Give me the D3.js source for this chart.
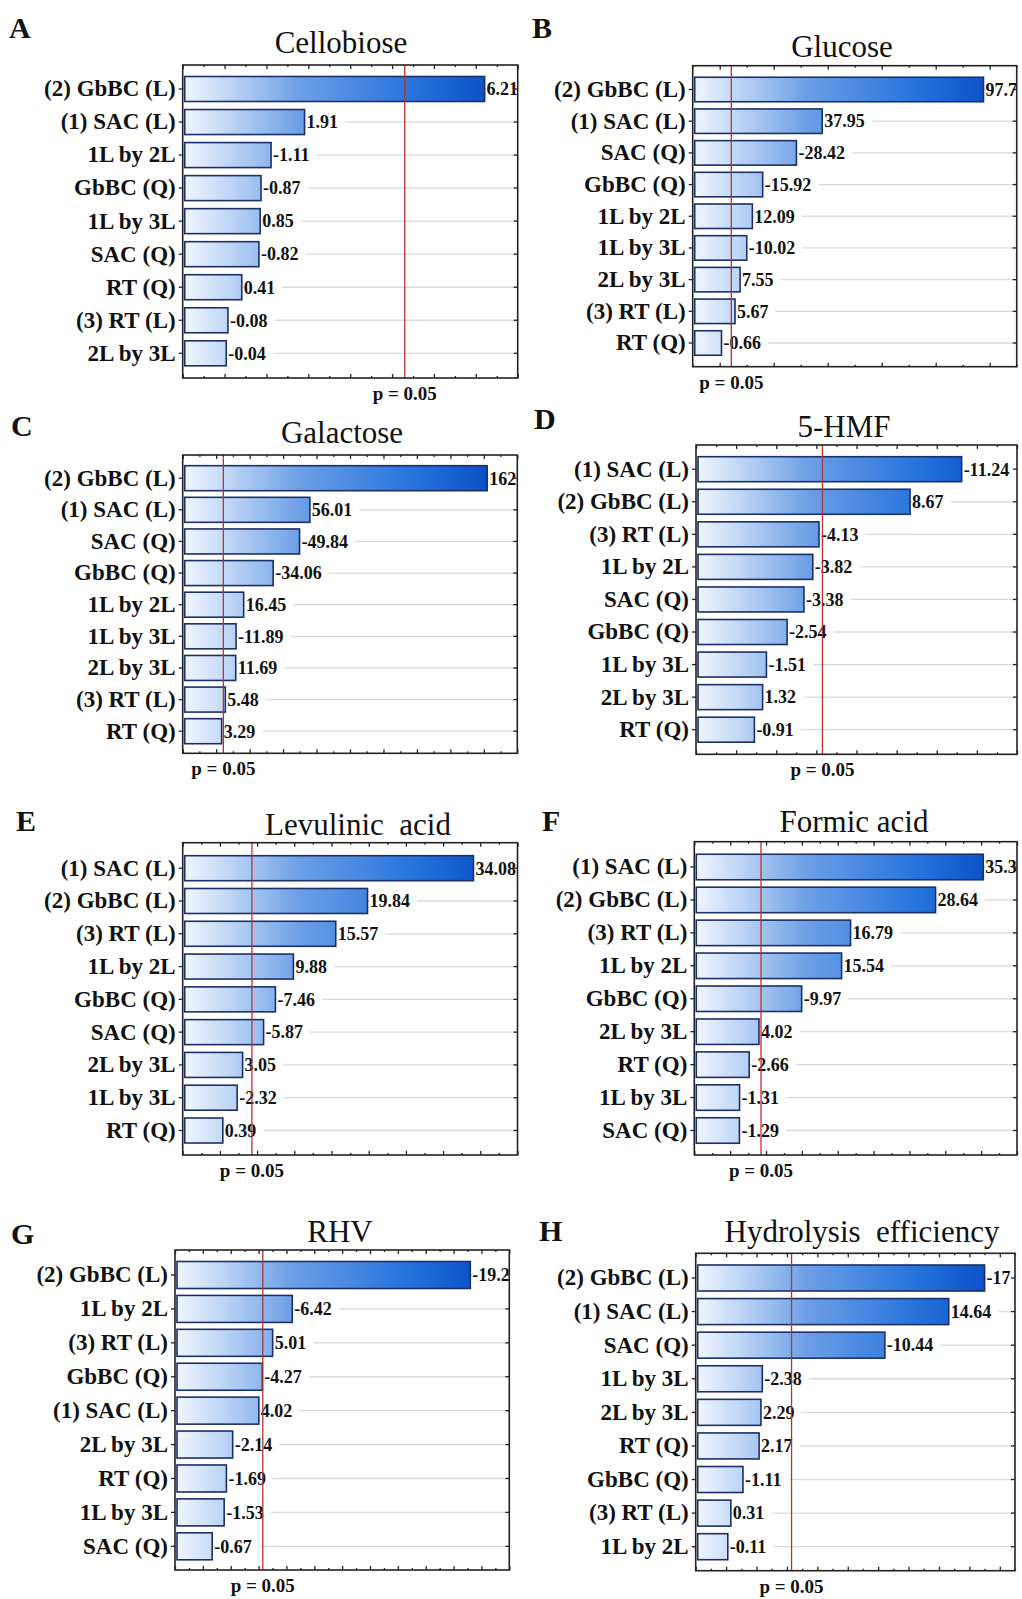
<!DOCTYPE html>
<html><head><meta charset="utf-8">
<script src="https://cdn.jsdelivr.net/npm/d3@7"></script>
<style>body{margin:0;background:#fff} svg{display:block}</style>
</head><body>
<svg id="c" width="1022" height="1599"></svg>
<script>
// ---------- DATA ----------
const letters = ["A","B","C","D","E","F","G","H"];
const titles = ["Cellobiose","Glucose","Galactose","5-HMF","Levulinic  acid","Formic acid","RHV","Hydrolysis  efficiency"];
const pLabel = "p = 0.05";
const pCrit = 4.303;

const catsA = ["(2) GbBC (L)","(1) SAC (L)","1L by 2L","GbBC (Q)","1L by 3L","SAC (Q)","RT (Q)","(3) RT (L)","2L by 3L"];
const valsA = [6.21, 1.91, -1.11, -0.87, 0.85, -0.82, 0.41, -0.08, -0.04];

const catsB = ["(2) GbBC (L)","(1) SAC (L)","SAC (Q)","GbBC (Q)","1L by 2L","1L by 3L","2L by 3L","(3) RT (L)","RT (Q)"];
const valsB = [97.7, 37.95, -28.42, -15.92, 12.09, -10.02, 7.55, 5.67, -0.66];

const catsC = ["(2) GbBC (L)","(1) SAC (L)","SAC (Q)","GbBC (Q)","1L by 2L","1L by 3L","2L by 3L","(3) RT (L)","RT (Q)"];
const valsC = [162, 56.01, -49.84, -34.06, 16.45, -11.89, 11.69, 5.48, 3.29];

const catsD = ["(1) SAC (L)","(2) GbBC (L)","(3) RT (L)","1L by 2L","SAC (Q)","GbBC (Q)","1L by 3L","2L by 3L","RT (Q)"];
const valsD = [-11.24, 8.67, -4.13, -3.82, -3.38, -2.54, -1.51, 1.32, -0.91];

const catsE = ["(1) SAC (L)","(2) GbBC (L)","(3) RT (L)","1L by 2L","GbBC (Q)","SAC (Q)","2L by 3L","1L by 3L","RT (Q)"];
const valsE = [34.08, 19.84, 15.57, 9.88, -7.46, -5.87, 3.05, -2.32, 0.39];

const catsF = ["(1) SAC (L)","(2) GbBC (L)","(3) RT (L)","1L by 2L","GbBC (Q)","2L by 3L","RT (Q)","1L by 3L","SAC (Q)"];
const valsF = [35.3, 28.64, 16.79, 15.54, -9.97, 4.02, -2.66, -1.31, -1.29];

const catsG = ["(2) GbBC (L)","1L by 2L","(3) RT (L)","GbBC (Q)","(1) SAC (L)","2L by 3L","RT (Q)","1L by 3L","SAC (Q)"];
const valsG = [-19.2, -6.42, 5.01, -4.27, 4.02, -2.14, -1.69, -1.53, -0.67];

const catsH = ["(2) GbBC (L)","(1) SAC (L)","SAC (Q)","1L by 3L","2L by 3L","RT (Q)","GbBC (Q)","(3) RT (L)","1L by 2L"];
const valsH = [-17, 14.64, -10.44, -2.38, 2.29, 2.17, -1.11, 0.31, -0.11];

const axisDomains = [[-1,7],[-10,110],[-20,180],[-2,14],[-5,40],[-5,40],[-2,22],[-2,19]];

const panelCats = [catsA,catsB,catsC,catsD,catsE,catsF,catsG,catsH];
const panelVals = [valsA,valsB,valsC,valsD,valsE,valsF,valsG,valsH];

// ---------- LAYOUT ----------
const layouts = [
  {left:182.7, right:517.7, top:65,    bottom:378,   first:89,    last:353.3,  barH:25,   lx:9,   ly:38,   tx:341, ty:53},
  {left:692.7, right:1016.7,top:65.7,  bottom:366.7, first:89.5,  last:343,    barH:24.5, lx:532, ly:38,   tx:842, ty:57},
  {left:182.7, right:517.3, top:455,   bottom:753.3, first:478.2, last:731.2,  barH:25,   lx:11,  ly:436,  tx:342, ty:443},
  {left:696,   right:1017,  top:445,   bottom:754.3, first:469.2, last:729.7,  barH:25,   lx:534, ly:429,  tx:844, ty:437},
  {left:182.7, right:517.5, top:842.7, bottom:1155,  first:868.2, last:1130.5, barH:25,   lx:16,  ly:831,  tx:358, ty:835},
  {left:694.3, right:1017,  top:841.7, bottom:1155,  first:867,   last:1130.5, barH:25.5, lx:542, ly:831,  tx:854, ty:832},
  {left:175,   right:509.3, top:1250,  bottom:1570,  first:1275,  last:1546.3, barH:27,   lx:11,  ly:1244, tx:340, ty:1242},
  {left:695.7, right:1015,  top:1253.3,bottom:1570.7,first:1278,  last:1546.7, barH:26,   lx:539, ly:1241, tx:862, ty:1242}
];

const serif = "'Liberation Serif','Times New Roman',Times,serif";
const svg = d3.select("#c");
const defs = svg.append("defs");

layouts.forEach((L, i) => {
  const cats = panelCats[i], vals = panelVals[i];
  const dom = axisDomains[i];
  const g = svg.append("g");
  const x = d3.scaleLinear().domain(dom).range([L.left, L.right]);
  const s = (L.last - L.first) / (cats.length - 1);
  const p = 1 - L.barH / s;
  const y = d3.scaleBand().domain(cats)
    .range([L.first - s/2, L.last + s/2]).paddingInner(p).paddingOuter(p/2);

  // gradient
  const gid = "grad" + i;
  const grad = defs.append("linearGradient").attr("id", gid)
    .attr("gradientUnits","userSpaceOnUse")
    .attr("x1", L.left).attr("x2", L.right).attr("y1",0).attr("y2",0);
  [[0,"#f2f7ff"],[0.13,"#c2d8f7"],[0.35,"#6c9fe6"],[0.7,"#2472dc"],[1,"#0042bd"]]
    .forEach(([o,c]) => grad.append("stop").attr("offset", o).attr("stop-color", c));

  // panel letter + title
  g.append("text").attr("x", L.lx).attr("y", L.ly)
    .attr("font-family", serif).attr("font-weight","bold").attr("font-size",30)
    .attr("fill","#111").text(letters[i]);
  g.append("text").attr("x", L.tx).attr("y", L.ty).attr("text-anchor","middle")
    .attr("font-family", serif).attr("font-size",31).attr("fill","#111")
    .style("white-space","pre").text(titles[i]);

  // background
  g.append("rect").attr("x",L.left).attr("y",L.top)
    .attr("width",L.right-L.left).attr("height",L.bottom-L.top).attr("fill","#fff");

  // gridlines
  g.append("g").selectAll("line").data(cats).join("line")
    .attr("x1", L.left).attr("x2", L.right)
    .attr("y1", c => y(c) + y.bandwidth()/2).attr("y2", c => y(c) + y.bandwidth()/2)
    .attr("stroke","#d9d9d9").attr("stroke-width",1.3);

  // bars
  const x0 = x(dom[0]) + 2;
  g.append("g").selectAll("rect").data(cats).join("rect")
    .attr("x", x0)
    .attr("y", c => y(c))
    .attr("width", (c,j) => x(Math.abs(vals[j])) - x0)
    .attr("height", y.bandwidth())
    .attr("fill", `url(#${gid})`)
    .attr("stroke","#1b2f68").attr("stroke-width",1.6);

  // value labels
  const lg = g.append("g");
  cats.forEach((c, j) => {
    const tx = x(Math.abs(vals[j])) + 2;
    const ty = y(c) + y.bandwidth()/2;
    const bg = lg.append("rect").attr("fill","#fff");
    const t = lg.append("text").attr("x", tx).attr("y", ty).attr("dy","0.35em")
      .attr("font-family", serif).attr("font-weight","bold").attr("font-size",18)
      .attr("fill","#111").text(String(vals[j]));
    const bb = t.node().getBBox();
    bg.attr("x", bb.x).attr("y", ty - 3).attr("width", bb.width + 7).attr("height", 6);
  });

  // p line
  g.append("line").attr("x1", x(pCrit)).attr("x2", x(pCrit))
    .attr("y1", L.top).attr("y2", L.bottom)
    .attr("stroke","#b8332b").attr("stroke-width",1.3);
  g.append("text").attr("x", x(pCrit)).attr("y", L.bottom + 22)
    .attr("text-anchor","middle").attr("font-family", serif)
    .attr("font-weight","bold").attr("font-size",19).attr("fill","#111").text(pLabel);

  // ticks top/bottom
  const major = x.ticks(8);
  const stepT = major.length > 1 ? major[1]-major[0] : 1;
  const minor = d3.range(dom[0], dom[1] + 1e-9, stepT/2).filter(v => !major.some(m => Math.abs(m-v) < 1e-9));
  const axB = g.append("g").attr("transform", `translate(0,${L.bottom})`)
    .call(d3.axisBottom(x).tickValues(major).tickSize(-4).tickFormat(""));
  const axT = g.append("g").attr("transform", `translate(0,${L.top})`)
    .call(d3.axisTop(x).tickValues(major).tickSize(-4).tickFormat(""));
  const axBm = g.append("g").attr("transform", `translate(0,${L.bottom})`)
    .call(d3.axisBottom(x).tickValues(minor).tickSize(-2).tickFormat(""));
  const axTm = g.append("g").attr("transform", `translate(0,${L.top})`)
    .call(d3.axisTop(x).tickValues(minor).tickSize(-2).tickFormat(""));
  [axB,axT,axBm,axTm].forEach(a => { a.select(".domain").remove(); a.selectAll("line").attr("stroke","#222").attr("stroke-width",1.3); });

  // left axis with category labels
  const axL = g.append("g").attr("transform", `translate(${L.left},0)`)
    .call(d3.axisLeft(y).tickSize(4).tickPadding(3));
  axL.select(".domain").remove();
  axL.selectAll("line").attr("stroke","#222").attr("stroke-width",1.3);
  axL.selectAll("text").attr("font-family", serif).attr("font-weight","bold")
    .attr("font-size",23).attr("fill","#111");

  // right ticks
  const axR = g.append("g").attr("transform", `translate(${L.right},0)`)
    .call(d3.axisRight(y).tickSize(-4).tickFormat(""));
  axR.select(".domain").remove();
  axR.selectAll("line").attr("stroke","#222").attr("stroke-width",1.3);

  // border
  g.append("rect").attr("x",L.left).attr("y",L.top)
    .attr("width",L.right-L.left).attr("height",L.bottom-L.top)
    .attr("fill","none").attr("stroke","#222").attr("stroke-width",1.6);
});
</script>
</body></html>
